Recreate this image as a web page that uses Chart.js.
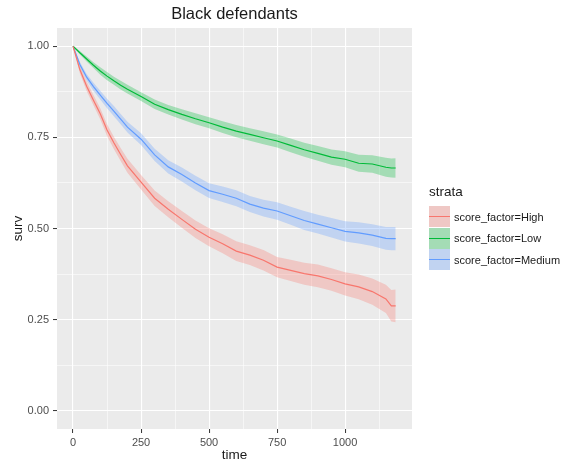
<!DOCTYPE html>
<html>
<head>
<meta charset="utf-8">
<script src="https://cdn.jsdelivr.net/npm/chart.js@4.4.0/dist/chart.umd.min.js"></script>
<style>
    body { margin: 0; background: #fff; font-family: "Liberation Sans", Arial, sans-serif; }
    #wrap { position: relative; width: 563px; height: 465px; }
    #title { position: absolute; left: 57px; width: 355px; top: 4px; text-align: center; font-size: 16.5px; color: #1a1a1a; }
    #legend { position: absolute; left: 429px; top: 184px; color: #1a1a1a; }
    #legend .ttl { font-size: 13.5px; height: 22px; }
    #legend .row { display: flex; align-items: center; height: 21.5px; }
    #legend .key { position: relative; width: 21px; height: 21px; background: #ebebeb; }
    #legend .key .fill { position: absolute; inset: 0; }
    #legend .key .ln { position: absolute; left: 0; right: 0; top: 10px; height: 1.2px; }
    #legend .lab { font-size: 11px; margin-left: 4px; }
</style>
</head>
<body>
<div id="wrap">
    <canvas id="c" width="563" height="465"></canvas>
    <div id="title">Black defendants</div>
    <div id="legend"></div>
</div>
<script>
    // survival curves
    var times = [0, 25, 50, 75, 100, 125, 150, 175, 200, 250, 300, 350, 400, 450, 500, 550, 600, 650, 700, 750, 800, 850, 900, 950, 1000, 1050, 1100, 1150, 1170, 1186];

    var highSurv  = [1.0, 0.936, 0.89, 0.852, 0.815, 0.77, 0.735, 0.703, 0.672, 0.627, 0.583, 0.553, 0.525, 0.498, 0.476, 0.458, 0.438, 0.427, 0.413, 0.394, 0.385, 0.376, 0.37, 0.36, 0.348, 0.34, 0.327, 0.307, 0.288, 0.288];
    var highLower = [1.0, 0.926, 0.877, 0.838, 0.8, 0.754, 0.718, 0.685, 0.653, 0.607, 0.562, 0.531, 0.502, 0.474, 0.451, 0.432, 0.411, 0.4, 0.385, 0.366, 0.356, 0.346, 0.339, 0.329, 0.316, 0.306, 0.291, 0.268, 0.245, 0.243];
    var highUpper = [1.0, 0.946, 0.903, 0.866, 0.83, 0.786, 0.752, 0.721, 0.691, 0.647, 0.604, 0.575, 0.548, 0.522, 0.501, 0.484, 0.465, 0.454, 0.441, 0.422, 0.414, 0.406, 0.401, 0.391, 0.38, 0.374, 0.363, 0.346, 0.331, 0.333];

    var lowSurv  = [1.0, 0.982, 0.965, 0.948, 0.932, 0.918, 0.905, 0.893, 0.882, 0.862, 0.841, 0.826, 0.813, 0.801, 0.79, 0.778, 0.767, 0.758, 0.749, 0.74, 0.728, 0.716, 0.706, 0.696, 0.69, 0.679, 0.677, 0.668, 0.666, 0.666];
    var lowLower = [1.0, 0.977, 0.958, 0.94, 0.922, 0.907, 0.894, 0.881, 0.87, 0.85, 0.828, 0.813, 0.799, 0.786, 0.775, 0.762, 0.75, 0.741, 0.731, 0.722, 0.709, 0.697, 0.686, 0.675, 0.668, 0.656, 0.653, 0.642, 0.64, 0.639];
    var lowUpper = [1.0, 0.987, 0.972, 0.956, 0.942, 0.929, 0.916, 0.905, 0.894, 0.874, 0.854, 0.839, 0.827, 0.816, 0.805, 0.794, 0.784, 0.775, 0.767, 0.758, 0.747, 0.735, 0.726, 0.717, 0.712, 0.702, 0.701, 0.694, 0.692, 0.693];

    var medSurv  = [1.0, 0.95, 0.915, 0.889, 0.866, 0.843, 0.822, 0.8, 0.778, 0.745, 0.702, 0.669, 0.648, 0.625, 0.604, 0.594, 0.583, 0.567, 0.556, 0.548, 0.535, 0.522, 0.512, 0.502, 0.492, 0.488, 0.482, 0.473, 0.472, 0.472];
    var medLower = [1.0, 0.943, 0.906, 0.878, 0.854, 0.83, 0.808, 0.786, 0.763, 0.729, 0.685, 0.651, 0.629, 0.605, 0.584, 0.573, 0.561, 0.545, 0.533, 0.524, 0.51, 0.496, 0.486, 0.475, 0.464, 0.459, 0.452, 0.442, 0.44, 0.44];
    var medUpper = [1.0, 0.957, 0.924, 0.9, 0.878, 0.856, 0.836, 0.814, 0.793, 0.761, 0.719, 0.687, 0.667, 0.645, 0.624, 0.615, 0.605, 0.589, 0.579, 0.572, 0.56, 0.548, 0.538, 0.529, 0.52, 0.517, 0.512, 0.504, 0.504, 0.504];

    var strata = ['score_factor=High', 'score_factor=Low', 'score_factor=Medium'];
    var colors = ['#F8766D', '#00BA38', '#619CFF'];
    var bands  = ['rgba(248,118,109,0.3)', 'rgba(0,186,56,0.3)', 'rgba(97,156,255,0.3)'];

    var xBreaks = [0, 250, 500, 750, 1000];
    var xMinor  = [125, 375, 625, 875, 1125];
    var yBreaks = [0, 0.25, 0.5, 0.75, 1];
    var yMinor  = [0.125, 0.375, 0.625, 0.875];

    function pts(vals) {
        return times.map(function (t, i) { return { x: t, y: vals[i] }; });
    }

    var series = [
        [highSurv, highLower, highUpper],
        [lowSurv, lowLower, lowUpper],
        [medSurv, medLower, medUpper]
    ];

    var datasets = [];
    series.forEach(function (s, i) {
        datasets.push({ data: pts(s[1]), borderWidth: 0, pointRadius: 0, fill: false, order: 2 });
        datasets.push({ data: pts(s[2]), borderWidth: 0, pointRadius: 0, fill: '-1', backgroundColor: bands[i], order: 2 });
    });
    series.forEach(function (s, i) {
        datasets.push({ label: strata[i], data: pts(s[0]), borderColor: colors[i], borderWidth: 1.2, pointRadius: 0, fill: false, order: 1 });
    });

    var panelBg = {
        id: 'panelBg',
        beforeDraw: function (chart) {
            var a = chart.chartArea, ctx = chart.ctx;
            ctx.save();
            ctx.fillStyle = '#ebebeb';
            ctx.fillRect(a.left, a.top, a.right - a.left, a.bottom - a.top);
            ctx.restore();
        }
    };

    function isMajor(list, v) {
        return list.some(function (b) { return Math.abs(b - v) < 1e-9; });
    }

    function gridOpts(major) {
        return {
            color: '#ffffff',
            lineWidth: function (c) { return c.tick && isMajor(major, c.tick.value) ? 1.1 : 0.55; },
            tickColor: function (c) { return c.tick && isMajor(major, c.tick.value) ? '#333333' : 'rgba(0,0,0,0)'; },
            tickLength: 4,
            tickWidth: 1
        };
    }

    var tickFont = { family: '"Liberation Sans", Arial, sans-serif', size: 11 };
    var titleFont = { family: '"Liberation Sans", Arial, sans-serif', size: 13.5 };

    new Chart(document.getElementById('c'), {
        type: 'line',
        data: { datasets: datasets },
        options: {
            responsive: false,
            animation: false,
            layout: { padding: { top: 28, right: 151, left: 0, bottom: 0 } },
            plugins: { legend: { display: false }, tooltip: { enabled: false } },
            scales: {
                x: {
                    type: 'linear',
                    min: -59,
                    max: 1246,
                    border: { display: false },
                    grid: gridOpts(xBreaks),
                    afterBuildTicks: function (scale) {
                        scale.ticks = xBreaks.concat(xMinor).sort(function (a, b) { return a - b; })
                            .map(function (v) { return { value: v }; });
                    },
                    afterFit: function (scale) { scale.height = 36; },
                    ticks: {
                        autoSkip: false,
                        maxRotation: 0,
                        color: '#4d4d4d',
                        font: tickFont,
                        padding: 3,
                        callback: function (v) { return isMajor(xBreaks, v) ? String(v) : ''; }
                    },
                    title: { display: true, text: 'time', color: '#1a1a1a', font: titleFont, padding: { top: 0, bottom: 2 } }
                },
                y: {
                    type: 'linear',
                    min: -0.05,
                    max: 1.05,
                    border: { display: false },
                    grid: gridOpts(yBreaks),
                    afterBuildTicks: function (scale) {
                        scale.ticks = yBreaks.concat(yMinor).sort(function (a, b) { return a - b; })
                            .map(function (v) { return { value: v }; });
                    },
                    afterFit: function (scale) { scale.width = 57; },
                    ticks: {
                        autoSkip: false,
                        color: '#4d4d4d',
                        font: tickFont,
                        padding: 4,
                        callback: function (v) { return isMajor(yBreaks, v) ? v.toFixed(2) : ''; }
                    },
                    title: { display: true, text: 'surv', color: '#1a1a1a', font: titleFont, padding: { top: 10, bottom: 0 } }
                }
            }
        },
        plugins: [panelBg]
    });

    // legend, ggplot style
    var leg = document.getElementById('legend');
    var html = '<div class="ttl">strata</div>';
    strata.forEach(function (s, i) {
        html += '<div class="row"><div class="key"><div class="fill" style="background:' + bands[i] + '"></div>' +
            '<div class="ln" style="background:' + colors[i] + '"></div></div><div class="lab">' + s + '</div></div>';
    });
    leg.innerHTML = html;
</script>
</body>
</html>
